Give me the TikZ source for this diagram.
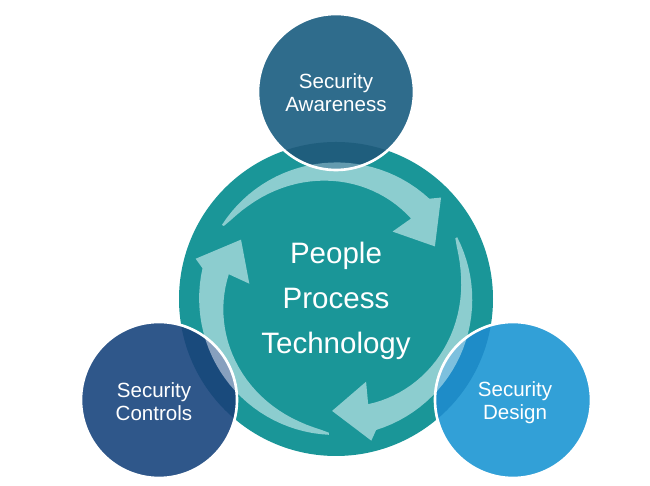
\documentclass[tikz,border=0pt]{standalone}
\usepackage{fontspec}
\setmainfont{Liberation Sans}

\definecolor{hubteal}{RGB}{26,150,152}
\definecolor{arrowteal}{RGB}{140,205,207}
\definecolor{fillaware}{RGB}{47,108,140}
\definecolor{darkaware}{RGB}{31,94,125}
\definecolor{lightaware}{RGB}{100,155,175}
\definecolor{fillctrl}{RGB}{47,87,138}
\definecolor{darkctrl}{RGB}{25,74,124}
\definecolor{lightctrl}{RGB}{135,160,190}
\definecolor{filldesign}{RGB}{50,160,215}
\definecolor{darkdesign}{RGB}{30,140,200}
\definecolor{lightdesign}{RGB}{125,192,222}

\tikzset{
  pillartext/.style={text=white, align=center, inner sep=0pt,
    font=\fontsize{11.7}{13}\selectfont},
  hubtext/.style={text=white, align=center, inner sep=0pt,
    font=\fontsize{16.8}{25.5}\selectfont}
}

% three tapered arrows round the hub
\newcommand{\cyclearrows}[1]{%
  \begin{scope}[shift={(hub)}]
    \foreach \tail/\base in {147/47,27/-73,-93/167}
      \fill[#1] plot[domain=0:1,samples=30] ({\tail-100*\x}:{136+\x})
        -- (\base-3:146) -- (\base-19:112) -- (\base+3:88)
        -- plot[domain=1:0,samples=30] ({\tail-100*\x}:{134-24*(\x+0.0001)^0.7}) -- cycle;
  \end{scope}}

\begin{document}
\begin{tikzpicture}[x=0.02cm,y=0.02cm]
  \useasboundingbox (0,0) rectangle (650,486);
  \coordinate (hub) at (336,187);
  \coordinate (aware) at (336,394);
  \coordinate (ctrl) at (159,86);
  \coordinate (design) at (513,86);

  \fill[hubteal] (hub) circle (157);
  \cyclearrows{arrowteal}

  % pillars, with the parts over the hub in other tones
  \foreach \pos in {aware,ctrl,design} {
    \fill[fill\pos] (\pos) circle (78);
    \begin{scope}
      \clip (\pos) circle (78);
      \fill[dark\pos] (hub) circle (157);
      \cyclearrows{light\pos}
    \end{scope}
    \draw[white, line width=1.5pt] (\pos) circle (78);
  }

  \node[hubtext] (hubtxt) at (336,185) {People\\Process\\Technology};
  \node[pillartext] (awaretxt) at (336,393) {Security\\Awareness};
  \node[pillartext] (ctrltxt) at (154,84) {Security\\Controls};
  \node[pillartext] (designtxt) at (515,83) {Security\\Design};
\end{tikzpicture}
\end{document}
